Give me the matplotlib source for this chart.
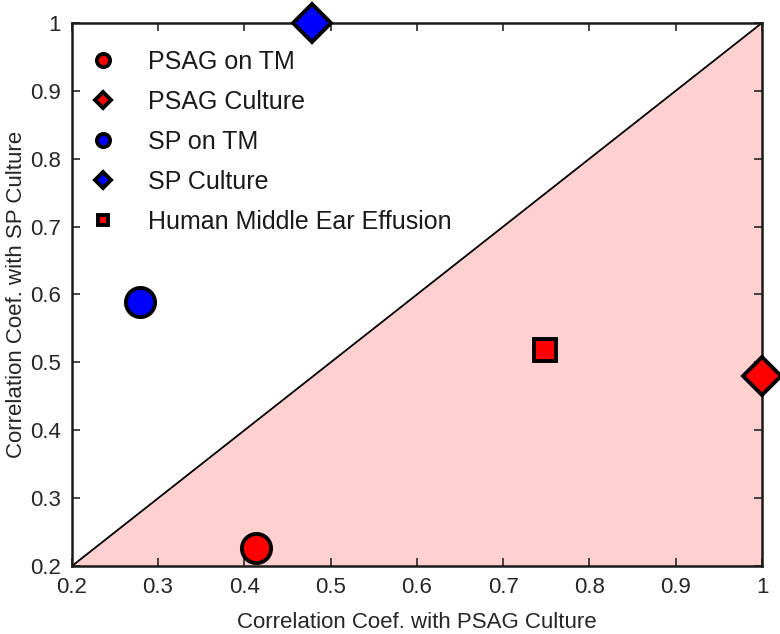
import numpy as np
import matplotlib
matplotlib.use("Agg")
import matplotlib.pyplot as plt

plt.rcParams['font.family'] = ['Liberation Sans', 'DejaVu Sans']

# series: (name, x = corr. with PSAG culture, y = corr. with SP culture)
labels = ["PSAG on TM", "PSAG Culture", "SP on TM", "SP Culture", "Human Middle Ear Effusion"]
x_vals = [0.414, 1.0, 0.279, 0.478, 0.748]
y_vals = [0.227, 0.48, 0.589, 1.0, 0.519]
colors = ["#ff0000", "#ff0000", "#0000ff", "#0000ff", "#ff0000"]
markers = ["o", "D", "o", "D", "s"]
sizes = [21, 21, 21, 21, 16]

lims = [0.2, 1.0]
ticks = [0.2, 0.3, 0.4, 0.5, 0.6, 0.7, 0.8, 0.9, 1.0]
tick_labels = ["0.2", "0.3", "0.4", "0.5", "0.6", "0.7", "0.8", "0.9", "1"]

fig = plt.figure(figsize=(7.8, 6.34), dpi=100)
ax = fig.add_axes([0.092, 0.107, 0.885, 0.857])

# shaded region below the diagonal
ax.fill_between(lims, lims, lims[0], color="#ffd0d0", zorder=1)
ax.plot(lims, lims, color="black", lw=1.3, zorder=2)

for lab, x, y, c, m, s in zip(labels, x_vals, y_vals, colors, markers, sizes):
    ms = s * 0.9 if m == "D" else s
    ax.plot(x, y, marker=m, ls="none", ms=ms, mfc=c, mec="black", mew=2.8,
            label=lab, zorder=5, clip_on=False)

ax.set_xlim(lims)
ax.set_ylim(lims)
ax.set_xticks(ticks)
ax.set_xticklabels(tick_labels)
ax.set_yticks(ticks)
ax.set_yticklabels(tick_labels)
ax.tick_params(direction="in", top=True, right=True, length=6, width=1.2,
               labelsize=16, pad=8, colors="#262626", labelcolor="#262626")
for sp in ax.spines.values():
    sp.set_linewidth(1.8)
    sp.set_color("#1a1a1a")

ax.set_xlabel("Correlation Coef. with PSAG Culture", fontsize=16, color="#262626", labelpad=10)
ax.set_ylabel("Correlation Coef. with SP Culture", fontsize=16, color="#262626", labelpad=2)

leg = ax.legend(loc="upper left", frameon=False, fontsize=18, markerscale=0.45,
                handlelength=2.0, handletextpad=0.8, labelspacing=0.64,
                borderaxespad=0, bbox_to_anchor=(-0.006, 0.968))
for t in leg.get_texts():
    t.set_color("#1a1a1a")

fig.savefig("out.png", dpi=100)
